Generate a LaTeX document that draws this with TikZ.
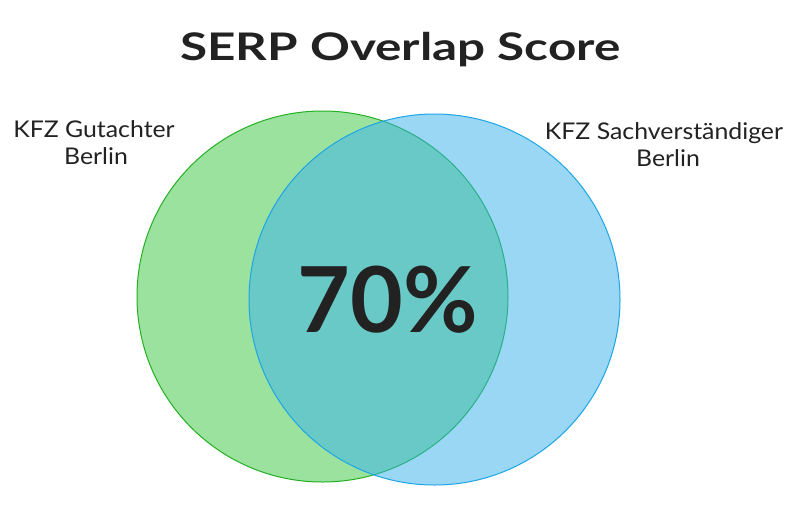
\documentclass[tikz,border=0pt]{standalone}
\usepackage{fontspec}
\setmainfont{Lato}
\newfontfamily\titlefont[FakeStretch=1.3]{Lato}
\newfontfamily\labelfont[FakeStretch=1.08]{Lato}
\newfontfamily\bigfont[FakeStretch=1.0]{Lato}
\definecolor{txt}{HTML}{222222}
\definecolor{gfill}{RGB}{59,199,65}
\definecolor{bfill}{RGB}{53,177,237}
\definecolor{gline}{HTML}{22B022}
\definecolor{bline}{HTML}{1EA5E6}
\begin{document}
\begin{tikzpicture}[x=1pt,y=-1pt,
  setcircle/.style={line width=1pt, fill opacity=0.5},
  label/.style={text=txt, font=\labelfont\fontsize{23}{28}\selectfont, anchor=base, inner sep=0pt},
  titlestyle/.style={text=txt, font=\titlefont\fontsize{38}{44}\selectfont\bfseries, anchor=base, inner sep=0pt},
  bigstyle/.style={text=txt, font=\bigfont\fontsize{91}{100}\selectfont\bfseries, anchor=base, inner sep=0pt}]
\useasboundingbox (0,0) rectangle (800,504);
\fill[white] (0,0) rectangle (800,504);
\path[setcircle, fill=gfill, draw=gline] (322.5,296.5) circle[radius=185.5];
\path[setcircle, fill=bfill, draw=bline] (434.5,299.5) circle[radius=185.5];
\node[titlestyle] (title) at (400.5,60) {SERP Overlap Score};
\node[label] (left1) at (94,137) {KFZ Gutachter};
\node[label] (left2) at (96,164) {Berlin};
\node[label] (right1) at (664,139) {KFZ Sachverständiger};
\node[label] (right2) at (668,166) {Berlin};
\node[bigstyle] (pct) at (388,332) {70\%};
\end{tikzpicture}
\end{document}
